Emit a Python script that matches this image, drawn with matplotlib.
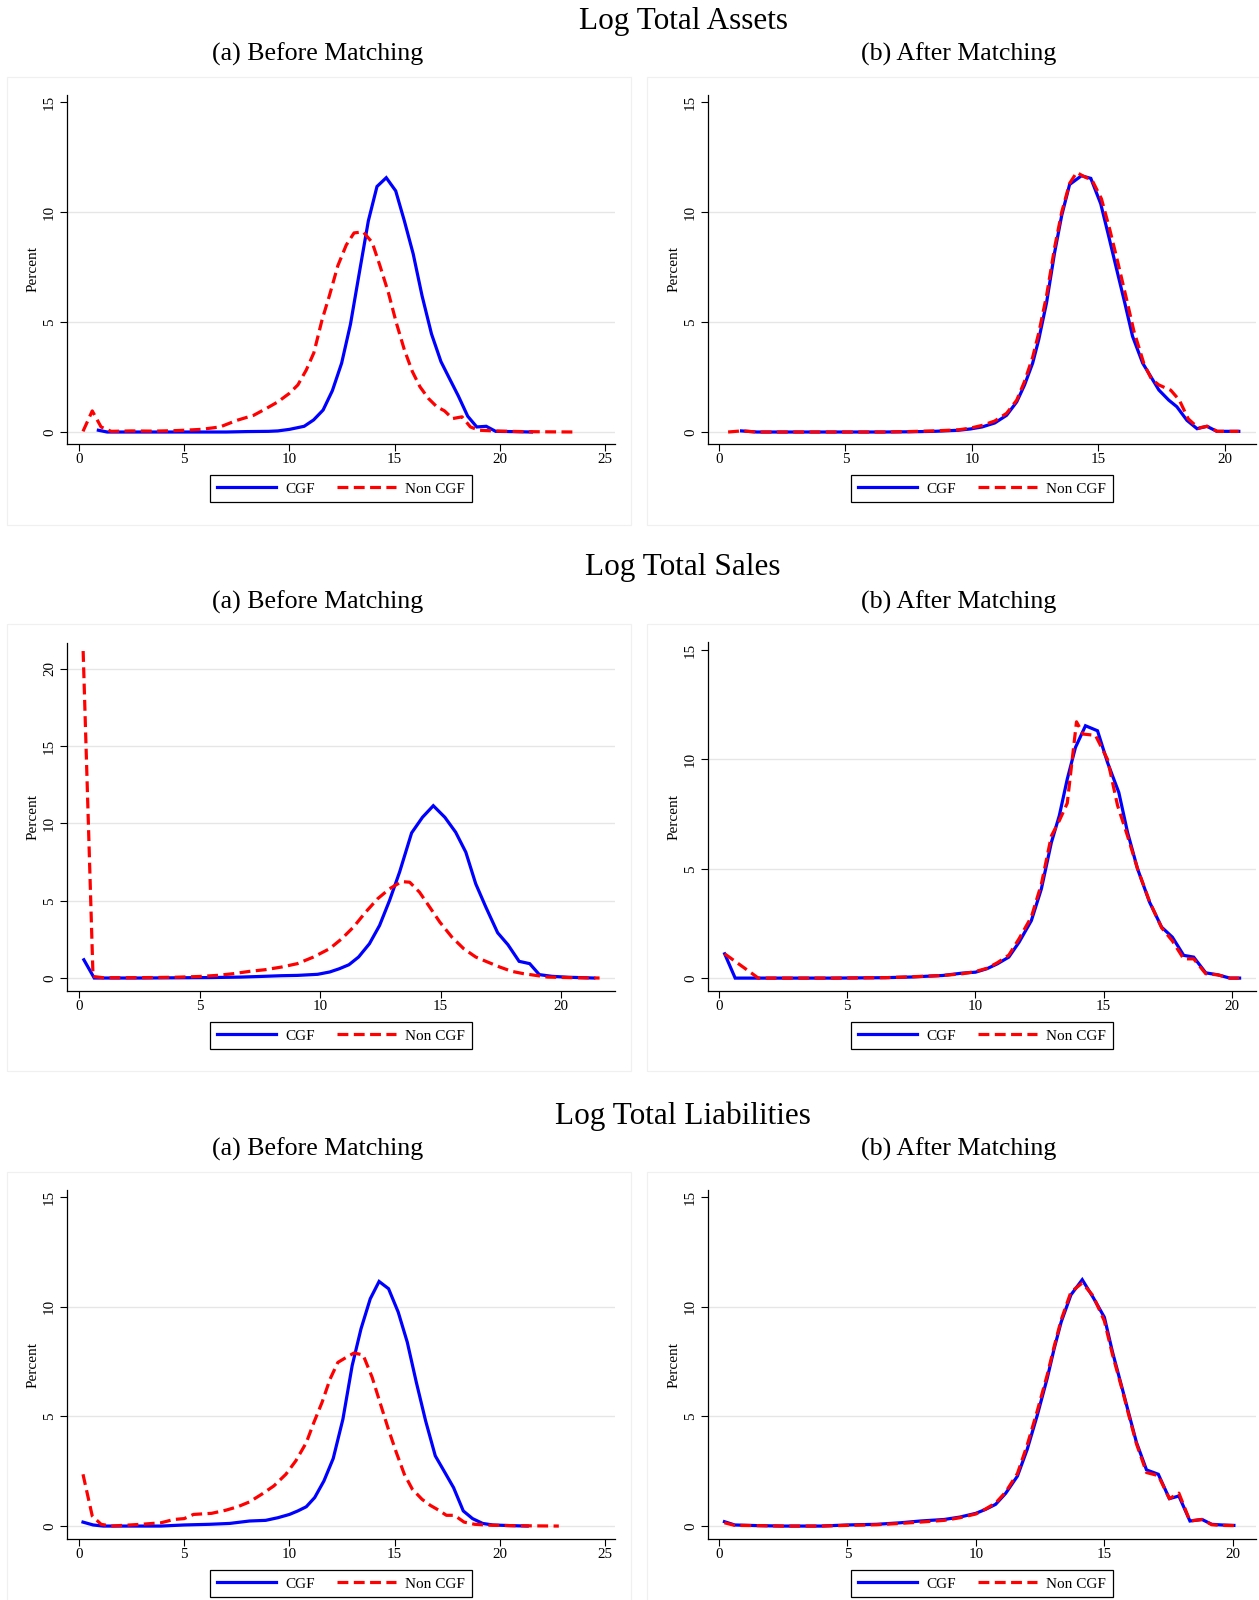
import matplotlib
matplotlib.use('Agg')
import matplotlib.pyplot as plt
from matplotlib.patches import Rectangle
from matplotlib.lines import Line2D

# ---------------- data ----------------
section_titles = ["Log Total Assets", "Log Total Sales", "Log Total Liabilities"]
panel_titles = ["(a) Before Matching", "(b) After Matching"]
series_names = ["CGF", "Non CGF"]

# Assets, before matching
assets_before_cgf_x = [0.92, 1.34, 2.0, 3.0, 4.0, 5.0, 6.0, 7.0, 8.0, 9.0, 9.45, 10.0, 10.7, 11.15, 11.6, 12.04, 12.48, 12.9, 13.35, 13.75, 14.16, 14.6, 15.05, 15.46, 15.88, 16.3, 16.75, 17.2, 17.6, 18.03, 18.47, 18.9, 19.35, 19.8, 20.5, 21.5]
assets_before_cgf_y = [0.08, 0.0, 0.0, 0.0, 0.0, 0.0, 0.0, 0.0, 0.02, 0.03, 0.05, 0.12, 0.26, 0.55, 1.0, 1.88, 3.13, 4.9, 7.4, 9.6, 11.16, 11.56, 10.96, 9.6, 8.1, 6.2, 4.46, 3.2, 2.44, 1.63, 0.72, 0.23, 0.26, 0.03, 0.02, 0.0]
assets_before_non_x = [0.19, 0.63, 1.05, 1.53, 2.5, 3.5, 4.5, 5.0, 5.8, 6.7, 7.5, 8.3, 8.9, 9.45, 10.0, 10.4, 10.8, 11.16, 11.55, 11.9, 12.3, 12.7, 13.07, 13.5, 13.93, 14.3, 14.7, 15.08, 15.46, 15.84, 16.2, 16.6, 17.0, 17.37, 17.75, 18.2, 18.6, 19.0, 20.0, 21.0, 22.0, 23.6]
assets_before_non_y = [0.03, 0.96, 0.23, 0.03, 0.05, 0.04, 0.06, 0.08, 0.12, 0.23, 0.53, 0.76, 1.07, 1.37, 1.76, 2.14, 2.82, 3.6, 5.1, 6.2, 7.56, 8.5, 9.05, 9.1, 8.62, 7.56, 6.34, 4.96, 3.74, 2.75, 2.06, 1.53, 1.15, 0.96, 0.61, 0.69, 0.23, 0.08, 0.04, 0.02, 0.01, 0.0]

# Assets, after matching
assets_after_cgf_x = [0.89, 1.5, 2.5, 3.5, 4.5, 5.5, 6.5, 7.5, 8.5, 9.47, 9.95, 10.4, 10.9, 11.37, 11.77, 12.08, 12.4, 12.64, 12.95, 13.27, 13.55, 13.86, 14.33, 14.7, 15.09, 15.4, 15.72, 16.04, 16.35, 16.75, 17.07, 17.39, 17.78, 18.1, 18.5, 18.9, 19.29, 19.68, 20.55]
assets_after_cgf_y = [0.05, 0.0, 0.0, 0.0, 0.0, 0.0, 0.0, 0.01, 0.03, 0.08, 0.14, 0.23, 0.41, 0.76, 1.37, 2.14, 3.13, 4.2, 5.88, 8.17, 9.85, 11.25, 11.65, 11.53, 10.38, 8.93, 7.4, 5.88, 4.35, 3.13, 2.52, 1.91, 1.45, 1.15, 0.53, 0.15, 0.26, 0.03, 0.03]
assets_after_non_x = [0.36, 0.89, 1.5, 2.5, 3.5, 4.5, 5.5, 6.5, 7.5, 8.5, 9.47, 9.95, 10.4, 10.9, 11.37, 11.77, 12.08, 12.4, 12.64, 12.95, 13.27, 13.55, 13.86, 14.14, 14.45, 14.75, 15.12, 15.45, 15.77, 16.1, 16.4, 16.8, 17.1, 17.39, 17.86, 18.2, 18.55, 18.95, 19.3, 19.7, 20.55]
assets_after_non_y = [0.0, 0.05, 0.0, 0.0, 0.0, 0.0, 0.0, 0.0, 0.02, 0.05, 0.1, 0.18, 0.3, 0.5, 0.85, 1.45, 2.3, 3.4, 4.5, 6.2, 8.4, 10.0, 11.3, 11.8, 11.6, 11.45, 10.6, 9.2, 7.7, 6.1, 4.6, 3.1, 2.4, 2.14, 1.9, 1.45, 0.6, 0.18, 0.26, 0.03, 0.03]

# Sales, before matching
sales_before_cgf_x = [0.2, 0.63, 1.5, 2.5, 3.5, 4.5, 5.5, 6.7, 7.5, 8.4, 9.06, 9.9, 10.4, 10.8, 11.2, 11.6, 12.05, 12.47, 12.88, 13.3, 13.8, 14.25, 14.7, 15.18, 15.63, 16.05, 16.46, 16.88, 17.37, 17.8, 18.26, 18.7, 19.1, 19.62, 20.3, 21.36]
sales_before_cgf_y = [1.18, 0.0, 0.0, 0.0, 0.01, 0.02, 0.03, 0.06, 0.1, 0.15, 0.17, 0.24, 0.39, 0.6, 0.86, 1.36, 2.22, 3.4, 5.0, 6.85, 9.39, 10.4, 11.15, 10.4, 9.43, 8.14, 6.1, 4.59, 2.93, 2.15, 1.08, 0.93, 0.22, 0.11, 0.05, 0.0]
sales_before_non_x = [0.17, 0.58, 1.0, 2.0, 3.0, 4.0, 5.0, 5.73, 6.4, 7.07, 7.73, 8.4, 9.06, 9.73, 10.4, 10.9, 11.39, 11.89, 12.39, 12.88, 13.38, 13.72, 14.13, 14.55, 14.97, 15.47, 15.96, 16.46, 16.96, 17.46, 17.96, 18.45, 18.95, 19.45, 20.5, 21.6]
sales_before_non_y = [21.16, 0.1, 0.02, 0.02, 0.03, 0.05, 0.1, 0.17, 0.28, 0.43, 0.54, 0.71, 0.93, 1.36, 1.9, 2.54, 3.3, 4.26, 5.13, 5.77, 6.24, 6.2, 5.55, 4.59, 3.62, 2.65, 1.9, 1.36, 1.03, 0.71, 0.43, 0.28, 0.17, 0.06, 0.02, 0.0]

# Sales, after matching
sales_after_cgf_x = [0.22, 0.63, 1.5, 2.5, 3.5, 4.5, 5.5, 6.5, 7.5, 8.73, 9.5, 10.0, 10.45, 10.85, 11.3, 11.7, 12.18, 12.57, 12.96, 13.27, 13.58, 13.9, 14.29, 14.76, 15.15, 15.59, 15.93, 16.32, 16.79, 17.26, 17.68, 18.12, 18.51, 18.98, 19.45, 19.92, 20.3]
sales_after_cgf_y = [1.11, 0.0, 0.0, 0.0, 0.0, 0.0, 0.01, 0.02, 0.05, 0.12, 0.23, 0.27, 0.43, 0.65, 0.96, 1.64, 2.63, 4.08, 6.2, 7.43, 9.1, 10.55, 11.54, 11.31, 9.86, 8.49, 6.67, 5.0, 3.47, 2.33, 1.87, 1.04, 0.96, 0.24, 0.15, 0.0, 0.0]
sales_after_non_x = [0.22, 1.3, 1.53, 2.5, 3.5, 4.5, 5.5, 6.5, 7.5, 8.73, 9.5, 10.0, 10.45, 10.85, 11.3, 11.7, 12.18, 12.57, 12.96, 13.27, 13.58, 13.94, 14.2, 14.68, 15.15, 15.54, 15.93, 16.32, 16.79, 17.26, 17.68, 18.12, 18.51, 18.98, 19.45, 19.92, 20.3]
sales_after_non_y = [1.11, 0.2, 0.0, 0.0, 0.0, 0.0, 0.01, 0.02, 0.06, 0.12, 0.2, 0.3, 0.45, 0.7, 1.05, 1.8, 2.8, 4.3, 6.5, 7.2, 8.0, 11.72, 11.16, 11.1, 10.0, 7.9, 6.5, 5.0, 3.5, 2.3, 1.7, 0.88, 0.88, 0.2, 0.15, 0.0, 0.0]

# Liabilities, before matching
liab_before_cgf_x = [0.19, 0.67, 1.15, 2.0, 3.0, 3.9, 5.0, 6.2, 7.16, 8.1, 8.87, 9.45, 10.0, 10.4, 10.8, 11.2, 11.64, 12.08, 12.54, 12.98, 13.4, 13.84, 14.26, 14.71, 15.17, 15.6, 16.03, 16.47, 16.93, 17.37, 17.8, 18.26, 18.7, 19.18, 19.66, 20.5, 21.3]
liab_before_cgf_y = [0.18, 0.05, 0.0, 0.0, 0.0, 0.0, 0.05, 0.08, 0.12, 0.23, 0.26, 0.38, 0.53, 0.69, 0.88, 1.3, 2.06, 3.08, 4.87, 7.31, 8.99, 10.36, 11.15, 10.82, 9.75, 8.38, 6.55, 4.8, 3.2, 2.47, 1.75, 0.69, 0.34, 0.12, 0.05, 0.02, 0.0]
liab_before_non_x = [0.19, 0.63, 1.05, 1.53, 2.96, 3.9, 4.5, 5.0, 5.44, 6.3, 6.97, 7.54, 8.1, 8.68, 9.26, 9.83, 10.3, 10.8, 11.16, 11.55, 11.93, 12.3, 12.7, 13.07, 13.5, 13.93, 14.3, 14.7, 15.08, 15.46, 15.84, 16.3, 16.7, 17.08, 17.46, 17.84, 18.3, 18.8, 19.5, 20.5, 21.5, 22.8]
liab_before_non_y = [2.36, 0.46, 0.08, 0.0, 0.08, 0.15, 0.3, 0.34, 0.53, 0.58, 0.72, 0.88, 1.1, 1.45, 1.83, 2.36, 2.97, 3.8, 4.72, 5.64, 6.7, 7.46, 7.69, 7.89, 7.8, 6.78, 5.64, 4.42, 3.35, 2.36, 1.68, 1.22, 0.94, 0.73, 0.49, 0.49, 0.18, 0.08, 0.04, 0.02, 0.01, 0.0]

# Liabilities, after matching
liab_after_cgf_x = [0.22, 0.62, 1.5, 2.5, 3.98, 5.0, 6.14, 7.07, 7.84, 8.77, 9.38, 10.0, 10.38, 10.77, 11.16, 11.62, 12.0, 12.39, 12.78, 13.05, 13.32, 13.7, 14.14, 14.56, 15.0, 15.32, 15.7, 15.94, 16.25, 16.64, 17.1, 17.53, 17.9, 18.33, 18.8, 19.18, 19.57, 20.04]
liab_after_cgf_y = [0.2, 0.05, 0.02, 0.0, 0.0, 0.05, 0.08, 0.15, 0.23, 0.3, 0.41, 0.58, 0.76, 0.99, 1.49, 2.28, 3.5, 5.05, 6.75, 8.1, 9.3, 10.54, 11.23, 10.43, 9.52, 7.92, 6.25, 5.18, 3.81, 2.56, 2.36, 1.25, 1.37, 0.23, 0.3, 0.08, 0.05, 0.03]
liab_after_non_x = liab_after_cgf_x
liab_after_non_y = [0.15, 0.03, 0.02, 0.0, 0.0, 0.03, 0.06, 0.12, 0.18, 0.26, 0.38, 0.55, 0.78, 1.05, 1.55, 2.4, 3.7, 5.25, 6.9, 8.2, 9.4, 10.67, 11.08, 10.5, 9.35, 7.8, 6.2, 5.1, 3.75, 2.44, 2.3, 1.25, 1.5, 0.23, 0.3, 0.06, 0.03, 0.02]

x_ticks_25 = [0, 5, 10, 15, 20, 25]
x_ticks_20 = [0, 5, 10, 15, 20]
y_ticks_15 = [0, 5, 10, 15]
y_ticks_20 = [0, 5, 10, 15, 20]

# ---------------- layout ----------------
W, H = 1259, 1600
plt.rcParams['font.family'] = ['Liberation Serif', 'DejaVu Serif']
fig = plt.figure(figsize=(W / 100, H / 100), dpi=100)

BLUE = '#0000ff'
RED = '#ff0000'
GRID = '#e6e6e6'

def fx(px):
    return px / W

def fy(py):
    return 1 - py / H

panels = [
    dict(rect=(67, 95, 615, 444), xlim=(-0.57, 25.47), ylim=(-0.545, 15.32), xt=x_ticks_25, yt=y_ticks_15, grid=[0, 5, 10],
         cgf=(assets_before_cgf_x, assets_before_cgf_y), non=(assets_before_non_x, assets_before_non_y), leg=475),
    dict(rect=(708, 95, 1256, 444), xlim=(-0.435, 21.23), ylim=(-0.545, 15.32), xt=x_ticks_20, yt=y_ticks_15, grid=[0, 5, 10],
         cgf=(assets_after_cgf_x, assets_after_cgf_y), non=(assets_after_non_x, assets_after_non_y), leg=475),
    dict(rect=(67, 643, 615, 991), xlim=(-0.5, 22.24), ylim=(-0.84, 21.68), xt=x_ticks_20, yt=y_ticks_20, grid=[0, 5, 10, 15, 20],
         cgf=(sales_before_cgf_x, sales_before_cgf_y), non=(sales_before_non_x, sales_before_non_y), leg=1022),
    dict(rect=(708, 642, 1256, 991), xlim=(-0.43, 20.94), ylim=(-0.59, 15.37), xt=x_ticks_20, yt=y_ticks_15, grid=[0, 5, 10],
         cgf=(sales_after_cgf_x, sales_after_cgf_y), non=(sales_after_non_x, sales_after_non_y), leg=1022),
    dict(rect=(67, 1190, 615, 1539), xlim=(-0.57, 25.47), ylim=(-0.59, 15.32), xt=x_ticks_25, yt=y_ticks_15, grid=[0, 5, 10],
         cgf=(liab_before_cgf_x, liab_before_cgf_y), non=(liab_before_non_x, liab_before_non_y), leg=1570),
    dict(rect=(708, 1190, 1256, 1539), xlim=(-0.42, 20.9), ylim=(-0.59, 15.32), xt=x_ticks_20, yt=y_ticks_15, grid=[0, 5, 10],
         cgf=(liab_after_cgf_x, liab_after_cgf_y), non=(liab_after_non_x, liab_after_non_y), leg=1570),
]

# faint graph-region borders
borders = [(7, 77, 631, 525), (647, 77, 1275, 525),
           (7, 624, 631, 1071), (647, 624, 1275, 1071),
           (7, 1172, 631, 1620), (647, 1172, 1275, 1620)]
for (l, t, r, b) in borders:
    fig.add_artist(Rectangle((fx(l), fy(b)), fx(r - l), (b - t) / H, transform=fig.transFigure,
                             fill=False, ec='#f0f0f0', lw=0.9))

# titles
title_y = [21, 568, 1116]
sub_y = [54, 602, 1149]
for i in range(3):
    fig.text(fx(683), fy(title_y[i]), section_titles[i], ha='center', va='center', fontsize=22.5)
    fig.text(fx(318), fy(sub_y[i]), panel_titles[0], ha='center', va='center', fontsize=18.6)
    fig.text(fx(959), fy(sub_y[i]), panel_titles[1], ha='center', va='center', fontsize=18.6)

for p in panels:
    l, t, r, b = p['rect']
    ax = fig.add_axes([fx(l), fy(b), fx(r - l), (b - t) / H])
    ax.set_xlim(*p['xlim'])
    ax.set_ylim(*p['ylim'])
    for g in p['grid']:
        ax.axhline(g, color=GRID, lw=1.0, zorder=0)
    ax.plot(p['cgf'][0], p['cgf'][1], color=BLUE, lw=2.3, solid_joinstyle='miter', zorder=3, label=series_names[0])
    ax.plot(p['non'][0], p['non'][1], color=RED, lw=2.3, dashes=(3.4, 1.7), zorder=4, label=series_names[1])
    ax.set_xticks(p['xt'])
    ax.set_yticks(p['yt'])
    ax.set_yticklabels([str(v) for v in p['yt']], rotation=90, va='center')
    ax.tick_params(axis='both', direction='out', length=5, width=0.8, labelsize=10.8, colors='black')
    ax.tick_params(axis='x', pad=1.5)
    ax.tick_params(axis='y', pad=3)
    for s in ['top', 'right']:
        ax.spines[s].set_visible(False)
    for s in ['left', 'bottom']:
        ax.spines[s].set_linewidth(0.9)
        ax.spines[s].set_color('black')
    ax.text(-34 / (r - l), 0.5, 'Percent', transform=ax.transAxes, rotation=90,
            ha='center', va='center', fontsize=11)
    handles = [Line2D([], [], color=BLUE, lw=2.3),
               Line2D([], [], color=RED, lw=2.3, dashes=(3.4, 1.7))]
    leg = ax.legend(handles, series_names, loc='upper center', ncol=2,
                    bbox_to_anchor=(fx((l + r) / 2), fy(p['leg'])), bbox_transform=fig.transFigure,
                    frameon=True, fancybox=False, edgecolor='black', framealpha=1,
                    fontsize=11, handlelength=3.85, handletextpad=0.6, columnspacing=1.45,
                    borderpad=0.45, borderaxespad=0)
    leg.get_frame().set_linewidth(0.9)

fig.savefig('out.png', dpi=100)
